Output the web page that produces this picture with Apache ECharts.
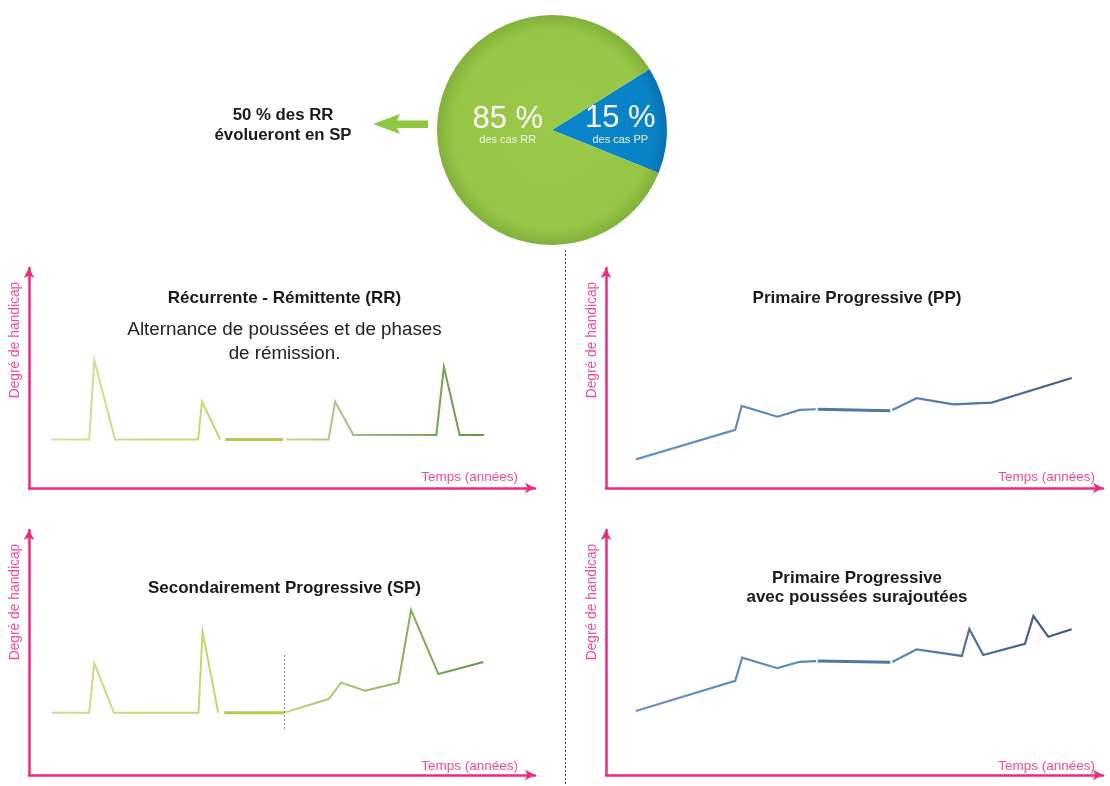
<!DOCTYPE html>
<html lang="fr">
<head>
<meta charset="utf-8">
<title>Formes de la sclérose en plaques</title>
<script src="https://cdn.jsdelivr.net/npm/echarts@6/dist/echarts.min.js"></script>
<style>
  html, body { margin: 0; padding: 0; background: #ffffff; }
  #chart { width: 1110px; height: 786px; }
</style>
</head>
<body>
<div id="chart"></div>
<script>
// Répartition des formes au diagnostic (%)
const shareNames = ['des cas PP', 'des cas RR'];
const shareValues = [15, 85];

// Récurrente - Rémittente : temps (0-100) et degré de handicap (0-100), par tronçon
const rrTime = [
  [4.4, 11.9, 12.9, 17.0, 33.4, 34.2, 37.8],
  [38.8, 50.2],
  [50.8, 59.2, 60.5, 64.1, 80.5, 82.0, 85.1, 89.9]
];
const rrLevel = [
  [22, 22, 58.2, 22, 22, 39.2, 22],
  [22, 22],
  [22, 22, 39.2, 24.1, 24.1, 55.1, 24.1, 24.1]
];

// Primaire Progressive
const ppTime = [
  [6.0, 26.0, 27.3, 34.5, 39.0, 42.2],
  [42.6, 57.2],
  [57.6, 62.5, 69.9, 77.6, 93.7]
];
const ppLevel = [
  [13.0, 26.4, 37.3, 32.4, 35.5, 35.8],
  [35.8, 35.1],
  [35.5, 40.8, 38.0, 38.8, 50.0]
];

// Secondairement Progressive
const spTime = [
  [4.5, 11.9, 12.9, 16.8, 33.5, 34.3, 37.4],
  [38.6, 50.4],
  [50.4, 59.2, 61.7, 66.4, 73.0, 75.5, 80.9, 89.8]
];
const spLevel = [
  [25.4, 25.4, 45.6, 25.4, 25.4, 58.5, 25.4],
  [25.4, 25.4],
  [25.4, 31.0, 37.7, 34.4, 37.7, 67.3, 41.2, 46.1]
];
// Passage de la forme RR à la forme SP
const spTransitionTime = 50.4;
const spTransitionRange = [18.8, 49.8];

// Primaire Progressive avec poussées surajoutées
const prTime = [
  [6.0, 26.0, 27.4, 34.5, 39.0, 42.3],
  [42.6, 57.2],
  [57.6, 62.5, 71.6, 73.1, 75.9, 84.3, 86.0, 89.0, 93.7]
];
const prLevel = [
  [26.1, 38.4, 47.9, 43.6, 46.2, 46.5],
  [46.5, 46.0],
  [46.1, 51.3, 48.6, 59.6, 49.0, 53.5, 64.9, 56.4, 59.5]
];

const panelTitles = [
  ['Récurrente - Rémittente (RR)'],
  ['Primaire Progressive (PP)'],
  ['Secondairement Progressive (SP)'],
  ['Primaire Progressive', 'avec poussées surajoutées']
];
const rrNote = ['Alternance de poussées et de phases', 'de rémission.'];
const yAxisTitle = 'Degré de handicap';
const xAxisTitle = 'Temps (années)';
const evolutionNote = ['50 % des RR', 'évolueront en SP'];

const PINK = '#ee2a7e';
const PINK_TEXT = '#f04a92';
const FONT = '"Liberation Sans", Arial, sans-serif';

const chart = echarts.init(document.getElementById('chart'), null, { renderer: 'canvas' });

// Grilles des quatre panneaux (origine des axes en bas à gauche)
const grids = [
  { left: 29,  top: 268, width: 506, height: 220 },
  { left: 606, top: 268, width: 497, height: 220 },
  { left: 29,  top: 530, width: 506, height: 245 },
  { left: 606, top: 530, width: 497, height: 245 }
];

function axis(gridIndex) {
  return {
    gridIndex: gridIndex,
    type: 'value',
    min: 0,
    max: 100,
    axisLine: {
      show: true,
      onZero: false,
      symbol: ['none', 'arrow'],
      symbolSize: [8, 10],
      lineStyle: { color: PINK, width: 2.5 }
    },
    axisTick: { show: false },
    axisLabel: { show: false },
    splitLine: { show: false }
  };
}

function grad(c0, c1) {
  return new echarts.graphic.LinearGradient(0, 0, 1, 0, [
    { offset: 0, color: c0 },
    { offset: 1, color: c1 }
  ]);
}

function seg(gridIndex, xs, ys, color, width) {
  return {
    type: 'line',
    xAxisIndex: gridIndex,
    yAxisIndex: gridIndex,
    data: xs.map((x, i) => [x, ys[i]]),
    showSymbol: false,
    symbol: 'none',
    silent: true,
    lineStyle: { color: color, width: width, cap: 'butt', join: 'miter' },
    z: 3
  };
}

const series = [];

// RR
series.push(seg(0, rrTime[0], rrLevel[0], grad('#d3e09a', '#c2d46c'), 2));
series.push(seg(0, rrTime[1], rrLevel[1], '#b3c84c', 3));
series.push(seg(0, rrTime[2], rrLevel[2], grad('#c3d69a', '#5f9642'), 2));

// PP
series.push(seg(1, ppTime[0], ppLevel[0], grad('#6992c0', '#5a86b4'), 2.2));
series.push(seg(1, ppTime[1], ppLevel[1], '#4f77a3', 3));
series.push(seg(1, ppTime[2], ppLevel[2], grad('#5c86b3', '#475f80'), 2.2));

// SP
series.push(seg(2, spTime[0], spLevel[0], grad('#d0dd8e', '#c4d56c'), 2));
series.push(seg(2, spTime[1], spLevel[1], '#b5ca4a', 3));
const spLast = seg(2, spTime[2], spLevel[2], grad('#c6d97c', '#5f9742'), 2);
spLast.markLine = {
  silent: true,
  symbol: ['none', 'none'],
  label: { show: false },
  lineStyle: { color: '#8a8a8a', type: [2, 2], width: 1 },
  data: [[
    { coord: [spTransitionTime, spTransitionRange[0]] },
    { coord: [spTransitionTime, spTransitionRange[1]] }
  ]]
};
series.push(spLast);

// PP avec poussées
series.push(seg(3, prTime[0], prLevel[0], grad('#6992c0', '#5a86b4'), 2.2));
series.push(seg(3, prTime[1], prLevel[1], '#4f77a3', 3));
series.push(seg(3, prTime[2], prLevel[2], grad('#5c86b3', '#3f5878'), 2.2));

// Camembert RR / PP
const pieCenter = [552, 130];
const pieRadius = 115;
const greenFill = new echarts.graphic.RadialGradient(pieCenter[0], pieCenter[1], pieRadius, [
  { offset: 0, color: '#9bca4b' },
  { offset: 0.85, color: '#97c647' },
  { offset: 1, color: '#82b13c' }
], true);
const blueFill = new echarts.graphic.RadialGradient(pieCenter[0], pieCenter[1], pieRadius, [
  { offset: 0, color: '#0985cb' },
  { offset: 0.88, color: '#0883c8' },
  { offset: 1, color: '#0a72b0' }
], true);
const pieFills = [blueFill, greenFill];

series.push({
  type: 'pie',
  center: pieCenter,
  radius: pieRadius,
  startAngle: 32,
  clockwise: true,
  silent: true,
  animation: false,
  data: shareNames.map((n, i) => ({ name: n, value: shareValues[i], itemStyle: { color: pieFills[i] } })),
  label: {
    show: true,
    position: 'inside',
    formatter: '{v|{c} %}\n{n|{b}}',
    rich: {
      v: { fontSize: 31, color: '#ffffff', fontFamily: FONT, lineHeight: 30, align: 'center' },
      n: { fontSize: 11, color: '#eef6e4', fontFamily: FONT, lineHeight: 12, align: 'center' }
    }
  },
  labelLayout: function (p) {
    return p.dataIndex === 0 ? { dx: 8, dy: 0 } : { dx: 16, dy: -10 };
  },
  labelLine: { show: false },
  emphasis: { disabled: true }
});

// Textes
const graphics = [];

function text(x, y, str, size, weight, color, opts) {
  graphics.push(Object.assign({
    type: 'text',
    x: x,
    y: y,
    silent: true,
    style: {
      text: str,
      font: (weight || 'normal') + ' ' + size + 'px ' + FONT,
      fill: color,
      align: 'center',
      verticalAlign: 'middle'
    }
  }, opts || {}));
}

// Note d'évolution et flèche
text(283, 115, evolutionNote[0], 16.8, 'bold', '#1a1a1a');
text(283, 135, evolutionNote[1], 16.8, 'bold', '#1a1a1a');
graphics.push({
  type: 'polygon',
  silent: true,
  shape: { points: [[373, 124], [400, 114], [397, 120.5], [428, 120.5], [428, 128], [397, 128], [400, 134]] },
  style: { fill: '#8dc641' }
});

// Titres de panneaux
const centersX = [284.5, 857, 284.5, 857];
text(centersX[0], 298, panelTitles[0][0], 17, 'bold', '#1a1a1a');
text(centersX[0], 330, rrNote[0], 18.8, 'normal', '#222222');
text(centersX[0], 354, rrNote[1], 18.8, 'normal', '#222222');
text(centersX[1], 298, panelTitles[1][0], 17, 'bold', '#1a1a1a');
text(centersX[2], 588, panelTitles[2][0], 17, 'bold', '#1a1a1a');
text(centersX[3], 578, panelTitles[3][0], 17, 'bold', '#1a1a1a');
text(centersX[3], 597, panelTitles[3][1], 17, 'bold', '#1a1a1a');

// Titres d'axes
const axisTitleY = [340, 340, 602, 602];
const axisTitleX = [15, 592, 15, 592];
const xTitleY = [477, 477, 766, 766];
const xTitleRight = [518, 1095, 518, 1095];
for (let i = 0; i < 4; i++) {
  text(axisTitleX[i], axisTitleY[i], yAxisTitle, 13.8, 'normal', PINK_TEXT, { rotation: Math.PI / 2 });
  graphics.push({
    type: 'text',
    x: xTitleRight[i],
    y: xTitleY[i],
    silent: true,
    style: {
      text: xAxisTitle,
      font: 'normal 13.5px ' + FONT,
      fill: PINK_TEXT,
      align: 'right',
      verticalAlign: 'middle'
    }
  });
}

// Séparateur vertical pointillé
graphics.push({
  type: 'line',
  silent: true,
  shape: { x1: 565.5, y1: 250, x2: 565.5, y2: 786 },
  style: { stroke: '#444444', lineWidth: 1, lineDash: [2, 2] }
});

chart.setOption({
  animation: false,
  backgroundColor: '#ffffff',
  textStyle: { fontFamily: FONT },
  grid: grids,
  xAxis: [0, 1, 2, 3].map(axis),
  yAxis: [0, 1, 2, 3].map(axis),
  series: series,
  graphic: graphics
});
</script>
</body>
</html>
